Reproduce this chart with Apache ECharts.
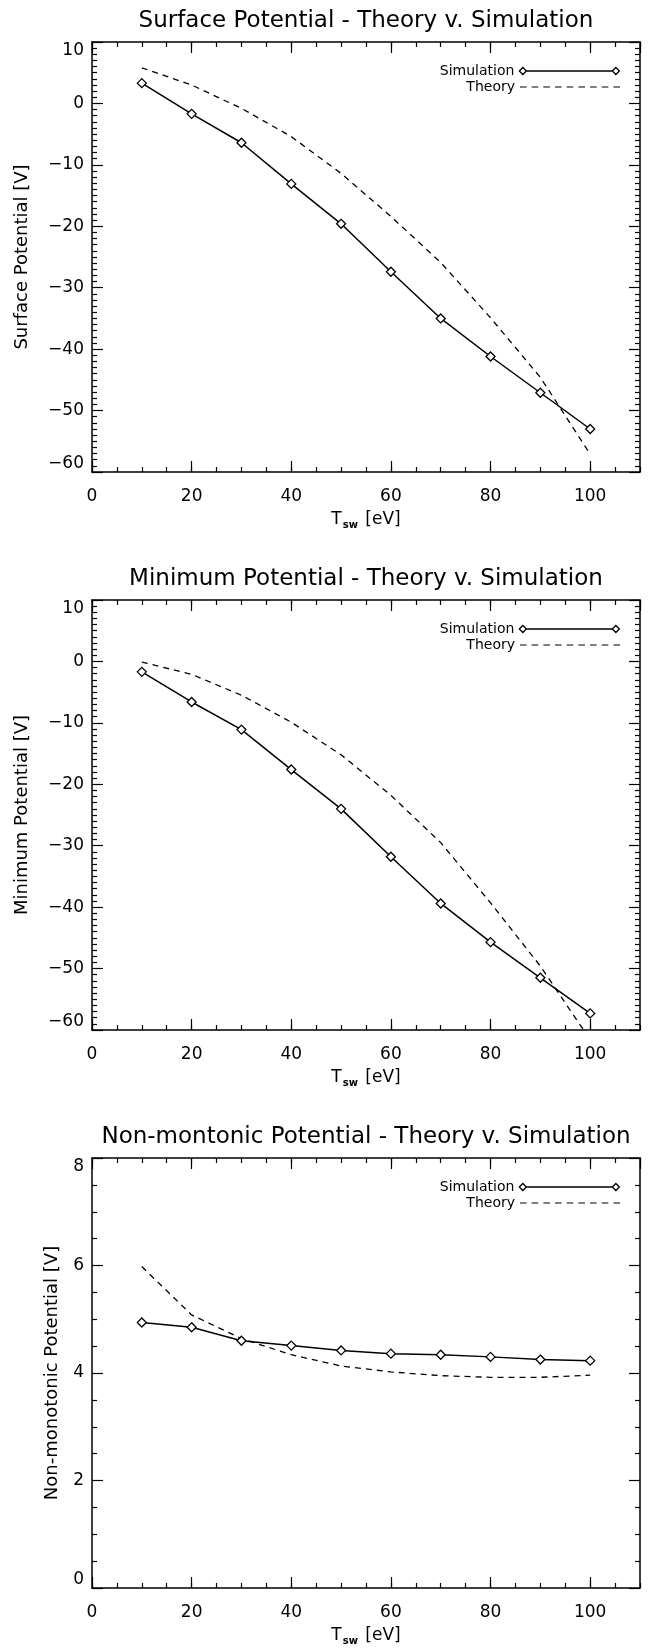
<!DOCTYPE html>
<html>
<head>
<meta charset="utf-8">
<script src="https://cdn.jsdelivr.net/npm/echarts@6/dist/echarts.min.js"></script>
<style>
html, body { margin: 0; padding: 0; background: #fff; }
#main { width: 662px; height: 1651px; }
</style>
</head>
<body>
<div id="main"></div>
<script>
// T_sw values (eV) shared by all three panels
var tsw = [10, 20, 30, 40, 50, 60, 70, 80, 90, 100];

// surface potential [V]
var surfaceSim    = [3.3, -1.7, -6.4, -13.1, -19.6, -27.4, -35.0, -41.2, -47.1, -53.0];
var surfaceTheory = [5.8, 3.0, -0.8, -5.4, -11.4, -18.4, -25.9, -34.9, -44.6, -57.1];

// minimum potential [V]
var minimumSim    = [-1.7, -6.6, -11.1, -17.6, -24.0, -31.8, -39.4, -45.7, -51.5, -57.3];
var minimumTheory = [-0.1, -2.1, -5.5, -9.9, -15.2, -21.8, -29.5, -39.3, -49.6, -61.6];

// non-monotonic potential [V]
var nonmonoSim    = [4.94, 4.85, 4.60, 4.51, 4.42, 4.36, 4.34, 4.30, 4.25, 4.23];
var nonmonoTheory = [5.98, 5.08, 4.64, 4.34, 4.13, 4.02, 3.95, 3.92, 3.92, 3.96];

var titles = [
    'Surface Potential - Theory v. Simulation',
    'Minimum Potential - Theory v. Simulation',
    'Non-montonic Potential - Theory v. Simulation'
];
var yNames = ['Surface Potential [V]', 'Minimum Potential [V]', 'Non-monotonic Potential [V]'];

var FONT = 'DejaVu Sans';
var gridTops = [42, 600, 1158];
var gridLeft = 92, gridWidth = 548, gridHeight = 430;

var panels = [
    {sim: surfaceSim, theory: surfaceTheory, min: -60, max: 10, step: 10, minor: 10, gap: 61},
    {sim: minimumSim, theory: minimumTheory, min: -60, max: 10, step: 10, minor: 10, gap: 61},
    {sim: nonmonoSim, theory: nonmonoTheory, min: 0, max: 8, step: 2, minor: 4, gap: 31}
];

function pairs(xs, ys) {
    return xs.map(function (x, i) { return [x, ys[i]]; });
}

// legend icons: diamond - line - diamond, and a dashed line
var simIcon = 'path://M0,3.5L3.5,0L7,3.5L3.5,7ZM7,3.5L93,3.5M93,3.5L96.5,0L100,3.5L96.5,7Z';
var theoryIcon = 'path://';
for (var d = 0; d < 9; d++) {
    var x0 = d * 11.5, x1 = x0 + 6.5;
    theoryIcon += 'M' + x0 + ',0L' + x1 + ',0L' + x1 + ',1.2L' + x0 + ',1.2Z';
}

var black = '#000';
var lineStyle = {color: black, width: 1.5};
var tickStyle = {color: black, width: 1.2};

var option = {
    animation: false,
    backgroundColor: '#fff',
    title: [], grid: [], xAxis: [], yAxis: [], legend: [], series: []
};

panels.forEach(function (p, i) {
    var top = gridTops[i];
    option.grid.push({left: gridLeft, top: top, width: gridWidth, height: gridHeight});

    option.title.push({
        text: titles[i],
        left: gridLeft + gridWidth / 2,
        textAlign: 'center',
        top: top - 32,
        padding: 0,
        textStyle: {fontFamily: FONT, fontSize: 23, fontWeight: 'normal', color: black}
    });

    // x axes: bottom major (labels), bottom minor, top major, top minor
    option.xAxis.push({
        gridIndex: i, type: 'value', position: 'bottom', min: 0, max: 110, interval: 20,
        axisLine: {onZero: false, lineStyle: lineStyle},
        axisTick: {inside: true, length: 11, lineStyle: tickStyle},
        axisLabel: {
            margin: 16, fontFamily: FONT, fontSize: 17, color: black,
            showMaxLabel: false
        },
        splitLine: {show: false},
        name: 'T{s|sw} [eV]', nameLocation: 'middle', nameGap: 38,
        nameTextStyle: {
            fontFamily: FONT, fontSize: 17, color: black, lineHeight: 20,
            rich: {s: {fontFamily: FONT, fontSize: 10, fontWeight: 'bold', color: black,
                       verticalAlign: 'bottom', lineHeight: 10, padding: [0, 2, 0, 1]}}
        }
    });
    option.xAxis.push({
        gridIndex: i, type: 'value', position: 'bottom', min: 0, max: 110, interval: 5,
        axisLine: {show: false, onZero: false},
        axisTick: {inside: true, length: 5, lineStyle: tickStyle},
        axisLabel: {show: false}, splitLine: {show: false}
    });
    option.xAxis.push({
        gridIndex: i, type: 'value', position: 'top', min: 0, max: 110, interval: 20,
        axisLine: {onZero: false, lineStyle: lineStyle},
        axisTick: {inside: true, length: 11, lineStyle: tickStyle},
        axisLabel: {show: false}, splitLine: {show: false}
    });
    option.xAxis.push({
        gridIndex: i, type: 'value', position: 'top', min: 0, max: 110, interval: 5,
        axisLine: {show: false, onZero: false},
        axisTick: {inside: true, length: 5, lineStyle: tickStyle},
        axisLabel: {show: false}, splitLine: {show: false}
    });

    // y axes: left (labels + name), right
    option.yAxis.push({
        gridIndex: i, type: 'value', position: 'left', min: p.min, max: p.max, interval: p.step,
        axisLine: {onZero: false, lineStyle: lineStyle},
        axisTick: {inside: true, length: 11, lineStyle: tickStyle},
        minorTick: {show: true, splitNumber: p.minor, length: 5, lineStyle: tickStyle},
        axisLabel: {
            margin: 8, fontFamily: FONT, fontSize: 17, color: black,
            verticalAlignMinLabel: 'bottom', verticalAlignMaxLabel: 'top',
            formatter: function (v) { return String(v).replace('-', '\u2212'); }
        },
        splitLine: {show: false},
        name: yNames[i], nameLocation: 'middle', nameGap: p.gap,
        nameTextStyle: {fontFamily: FONT, fontSize: 18, color: black}
    });
    option.yAxis.push({
        gridIndex: i, type: 'value', position: 'right', min: p.min, max: p.max, interval: p.step,
        axisLine: {onZero: false, lineStyle: lineStyle},
        axisTick: {inside: true, length: 11, lineStyle: tickStyle},
        minorTick: {show: true, splitNumber: p.minor, length: 5, lineStyle: tickStyle},
        axisLabel: {show: false}, splitLine: {show: false}
    });

    var legendBase = {
        align: 'right', right: 42, padding: 0, itemWidth: 100, itemHeight: 7,
        selectedMode: false,
        textStyle: {fontFamily: FONT, fontSize: 14, color: black}
    };
    option.legend.push(Object.assign({}, legendBase, {
        top: top + 22,
        data: [{name: 'Simulation', icon: simIcon,
                itemStyle: {color: 'transparent', borderColor: black, borderWidth: 1.3}}]
    }));
    option.legend.push(Object.assign({}, legendBase, {
        top: top + 38,
        data: [{name: 'Theory', icon: theoryIcon,
                itemStyle: {color: black, borderWidth: 0}}]
    }));

    option.series.push({
        name: 'Theory', type: 'line', xAxisIndex: i * 4, yAxisIndex: i * 2,
        data: pairs(tsw, p.theory), symbol: 'none', clip: true,
        lineStyle: {color: black, width: 1.3, type: [6, 5]},
        itemStyle: {color: black}, z: 2
    });
    option.series.push({
        name: 'Simulation', type: 'line', xAxisIndex: i * 4, yAxisIndex: i * 2,
        data: pairs(tsw, p.sim), symbol: 'diamond', symbolSize: 9,
        lineStyle: {color: black, width: 1.5},
        itemStyle: {color: '#fff', borderColor: black, borderWidth: 1.3}, z: 3
    });
});

var myChart = echarts.init(document.getElementById('main'));
myChart.setOption(option);
</script>
</body>
</html>
